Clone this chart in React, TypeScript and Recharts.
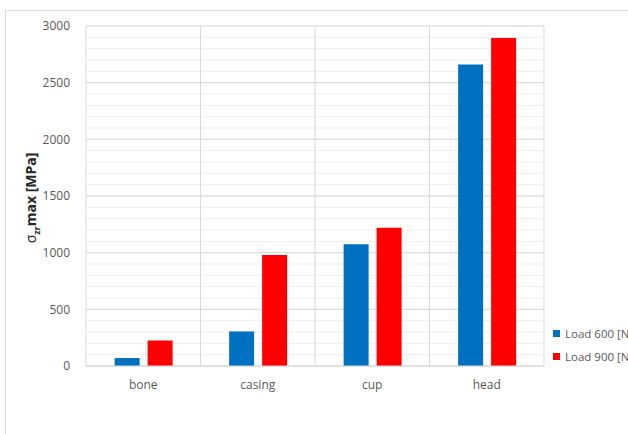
import React from 'react'
import { BarChart, Bar, XAxis, YAxis, CartesianGrid } from 'recharts'

// Raw data
const parts = ['bone', 'casing', 'cup', 'head']
const load600 = [70, 305, 1075, 2660]
const load900 = [225, 980, 1220, 2895]
const seriesNames = ['Load 600 [N]', 'Load 900 [N]']
const seriesColors = ['#0070c0', '#ff0000']
const yTicks = [0, 500, 1000, 1500, 2000, 2500, 3000]
const minorTicks = Array.from({ length: 31 }, (_, i) => i * 100)

const data = parts.map((part, i) => ({ part, load600: load600[i], load900: load900[i] }))

const FONT = '"Open Sans", sans-serif'
const TEXT = '#595959'
const GRID = '#d9d9d9'
const YMAX = 3000

const YLabel = ({ viewBox }: any) => {
  const cx = 36
  const cy = viewBox ? viewBox.y + viewBox.height / 2 + 2 : 196
  return (
    <text
      x={cx}
      y={cy}
      transform={`rotate(-90, ${cx}, ${cy})`}
      textAnchor="middle"
      fontFamily={FONT}
      fontSize={14}
      fill="#262626"
    >
      <tspan>σ</tspan>
      <tspan fontSize={9} dy={4} fontWeight="bold">zr</tspan>
      <tspan dy={-4} fontWeight="bold">max [MPa]</tspan>
    </text>
  )
}

const App = () => {
  return (
    <div style={{ position: 'fixed', left: 0, top: 0, width: 628, height: 434, overflow: 'hidden', background: '#fff', fontFamily: FONT }}>
      <div style={{ position: 'absolute', left: 5, top: 10, width: 640, height: 440, borderLeft: `1px solid ${GRID}`, borderTop: `1px solid ${GRID}` }} />
      <BarChart
        width={628}
        height={434}
        data={data}
        margin={{ top: 26, right: 84, bottom: 38, left: 0 }}
        barCategoryGap="25%"
        barGap={8}
        style={{ position: 'absolute', left: 0, top: 0 }}
      >
        {/* minor horizontal grid */}
        <CartesianGrid
          vertical={false}
          stroke="#efefef"
          horizontalCoordinatesGenerator={({ offset }: any) =>
            minorTicks.map(v => offset.top + offset.height * (1 - v / YMAX))
          }
        />
        {/* major grid + category boundaries */}
        <CartesianGrid
          stroke={GRID}
          fill="none"
          horizontalCoordinatesGenerator={({ offset }: any) =>
            yTicks.map(v => offset.top + offset.height * (1 - v / YMAX))
          }
          verticalCoordinatesGenerator={({ offset }: any) =>
            Array.from({ length: parts.length + 1 }, (_, i) => offset.left + (i * offset.width) / parts.length)
          }
        />
        <XAxis
          dataKey="part"
          axisLine={{ stroke: GRID }}
          tickLine={false}
          tick={{ fill: TEXT, fontSize: 12, fontFamily: FONT }}
          tickMargin={8}
        />
        <YAxis
          domain={[0, YMAX]}
          ticks={yTicks}
          width={86}
          axisLine={false}
          tickLine={false}
          tick={{ fill: TEXT, fontSize: 12, fontFamily: FONT }}
          tickMargin={10}
          label={<YLabel />}
        />
        <Bar dataKey="load600" name={seriesNames[0]} fill={seriesColors[0]} isAnimationActive={false} />
        <Bar dataKey="load900" name={seriesNames[1]} fill={seriesColors[1]} isAnimationActive={false} />
      </BarChart>

      {/* Legend */}
      <div style={{ position: 'absolute', left: 553, top: 322, width: 200, whiteSpace: 'nowrap' }}>
        {seriesNames.map((name, i) => (
          <div key={name} style={{ display: 'flex', alignItems: 'center', height: 23, fontSize: 11.5, color: TEXT }}>
            <span style={{ display: 'inline-block', width: 7, height: 7, background: seriesColors[i], marginRight: 5, flex: 'none' }} />
            <span>{name}</span>
          </div>
        ))}
      </div>
    </div>
  )
}

export default App
